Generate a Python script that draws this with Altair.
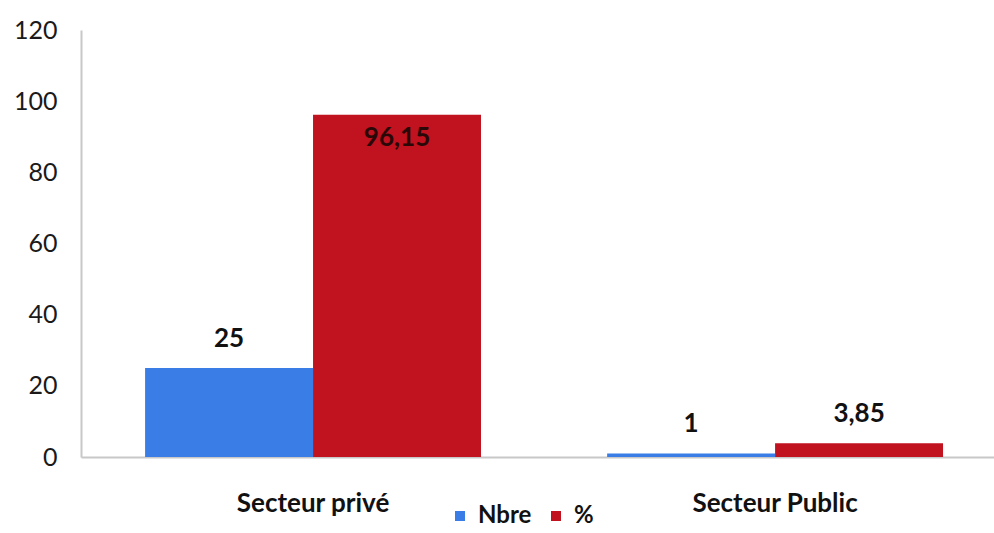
import altair as alt
import pandas as pd

categories = ["Secteur privé", "Secteur Public"]
series = ["Nbre", "%"]
nbre_values = [25, 1]
pct_values = [96.15, 3.85]

rows = []
for i, c in enumerate(categories):
    rows.append({"cat": c, "serie": "Nbre", "value": nbre_values[i]})
    rows.append({"cat": c, "serie": "%", "value": pct_values[i]})
df = pd.DataFrame(rows)

FONT = "Lato"
colors = ["#3b7de6", "#c0121f"]

x = alt.X("cat:N", sort=categories, title=None,
          scale=alt.Scale(paddingInner=0.273, paddingOuter=0.1245, align=0.557),
          axis=alt.Axis(labelAngle=0, labelFont=FONT, labelFontSize=26, labelFontWeight="bold",
                        labelColor="#111111", ticks=False, labelPadding=33,
                        domainColor="#c8c8c8", domainWidth=2))
xo = alt.XOffset("serie:N", sort=series, scale=alt.Scale(paddingInner=0, paddingOuter=0))
y = alt.Y("value:Q", title=None,
          scale=alt.Scale(domain=[0, 120], nice=False),
          axis=alt.Axis(values=[0, 20, 40, 60, 80, 100, 120], grid=False, ticks=False,
                        labelFont=FONT, labelFontSize=25, labelColor="#1a1a1a", labelPadding=24,
                        domainColor="#c8c8c8", domainWidth=2))

base = alt.Chart(df)

bars = base.mark_bar().encode(
    x=x, xOffset=xo, y=y,
    color=alt.Color("serie:N", sort=series, title=None,
                    scale=alt.Scale(domain=series, range=colors),
                    legend=alt.Legend(orient="none", legendX=367, legendY=474, direction="horizontal",
                                      symbolType="square", symbolSize=100, symbolStrokeWidth=0,
                                      labelFont=FONT, labelFontSize=24, labelFontWeight="bold",
                                      labelColor="#111111", columnPadding=12, labelOffset=6)),
)

lbl = base.transform_calculate(
    label="replace(toString(datum.value), '.', ',')"
)

above = lbl.transform_filter("datum.value < 90").mark_text(
    baseline="bottom", dy=-16, font=FONT, fontSize=26, fontWeight="bold", color="#111111"
).encode(x=x, xOffset=xo, y=y, text="label:N")

inside = lbl.transform_filter("datum.value >= 90").mark_text(
    baseline="top", dy=10, font=FONT, fontSize=26, fontWeight="bold", color="#2a0808"
).encode(x=x, xOffset=xo, y=y, text="label:N")

chart = alt.layer(bars, above, inside).properties(
    width=913, height=427,
    autosize=alt.AutoSizeParams(type="none"),
    padding={"left": 81, "top": 30, "right": 0, "bottom": 76},
).configure(background="white").configure_view(stroke=None)

chart.save("out.html", embed_options={"renderer": "svg", "actions": False})
